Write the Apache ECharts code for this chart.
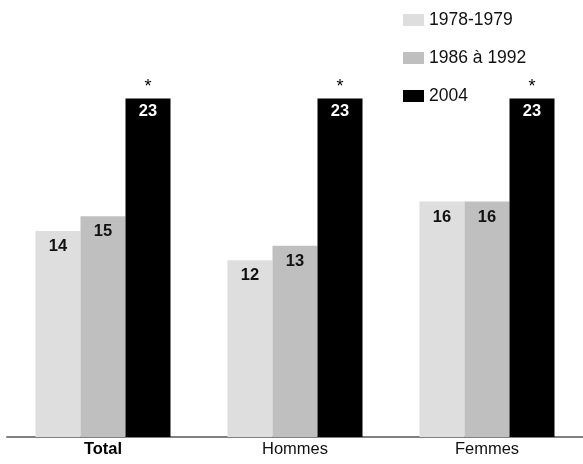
<!DOCTYPE html>
<html>
<head>
<meta charset="utf-8">
<script src="https://cdn.jsdelivr.net/npm/echarts@6/dist/echarts.min.js"></script>
<style>
  html, body { margin: 0; padding: 0; background: #fff; }
  #chart { width: 583px; height: 464px; }
</style>
</head>
<body>
<div id="chart"></div>
<script>
// Groups along the horizontal axis
const categories = ['Total', 'Hommes', 'Femmes'];
// Survey periods (one bar series each)
const periods = ['1978-1979', '1986 à 1992', '2004'];
const values1978 = [14, 12, 16];
const values1986 = [15, 13, 16];
const values2004 = [23, 23, 23];
// Significance markers shown above the 2004 bars
const marks2004 = ['*', '*', '*'];

const FONT = "'Liberation Sans', Arial, sans-serif";
const colors = ['#dedede', '#bfbfbf', '#000000'];

const chart = echarts.init(document.getElementById('chart'), null, { renderer: 'canvas' });

function valueLabel(color, distance) {
  return {
    show: true,
    position: 'insideTop',
    distance: distance,
    color: color,
    fontFamily: FONT,
    fontWeight: 'bold',
    fontSize: 16.5
  };
}

chart.setOption({
  animation: false,
  backgroundColor: '#ffffff',
  grid: { left: 7, right: -5, top: 69, bottom: 27, containLabel: false },
  legend: {
    data: periods,
    orient: 'vertical',
    left: 403,
    top: 11,
    padding: 0,
    itemWidth: 21,
    itemHeight: 12,
    itemGap: 20,
    icon: 'rect',
    textStyle: { fontFamily: FONT, fontSize: 17.5, color: '#111' }
  },
  xAxis: {
    type: 'category',
    data: categories,
    axisTick: { show: false },
    axisLine: { show: true, lineStyle: { color: '#808080', width: 2 } },
    axisLabel: {
      margin: 4,
      fontFamily: FONT,
      fontSize: 16.5,
      color: '#111',
      formatter: v => v === 'Total' ? '{b|' + v + '}' : v,
      rich: { b: { fontFamily: FONT, fontSize: 16.5, fontWeight: 'bold', color: '#000' } }
    }
  },
  yAxis: {
    type: 'value',
    min: 0,
    max: 25,
    show: false,
    splitLine: { show: false }
  },
  series: [
    {
      name: periods[0], type: 'bar', data: values1978, barWidth: 45, barGap: '0%',
      itemStyle: { color: colors[0] }, label: valueLabel('#111', 7)
    },
    {
      name: periods[1], type: 'bar', data: values1986, barWidth: 45, barGap: '0%',
      itemStyle: { color: colors[1] }, label: valueLabel('#111', 7)
    },
    {
      name: periods[2], type: 'bar', data: values2004, barWidth: 45, barGap: '0%',
      stack: 'y2004',
      itemStyle: { color: colors[2] }, label: valueLabel('#fff', 5)
    },
    {
      // zero-height bar stacked on 2004 so its label sits just above the bar
      name: 'sig', type: 'bar', data: [0, 0, 0], barWidth: 45, barGap: '0%',
      stack: 'y2004', stackStrategy: 'all',
      itemStyle: { color: 'transparent' },
      label: {
        show: true, position: 'top', distance: 2,
        formatter: p => marks2004[p.dataIndex],
        fontFamily: FONT, fontSize: 18, color: '#000'
      }
    }
  ]
});
</script>
</body>
</html>
